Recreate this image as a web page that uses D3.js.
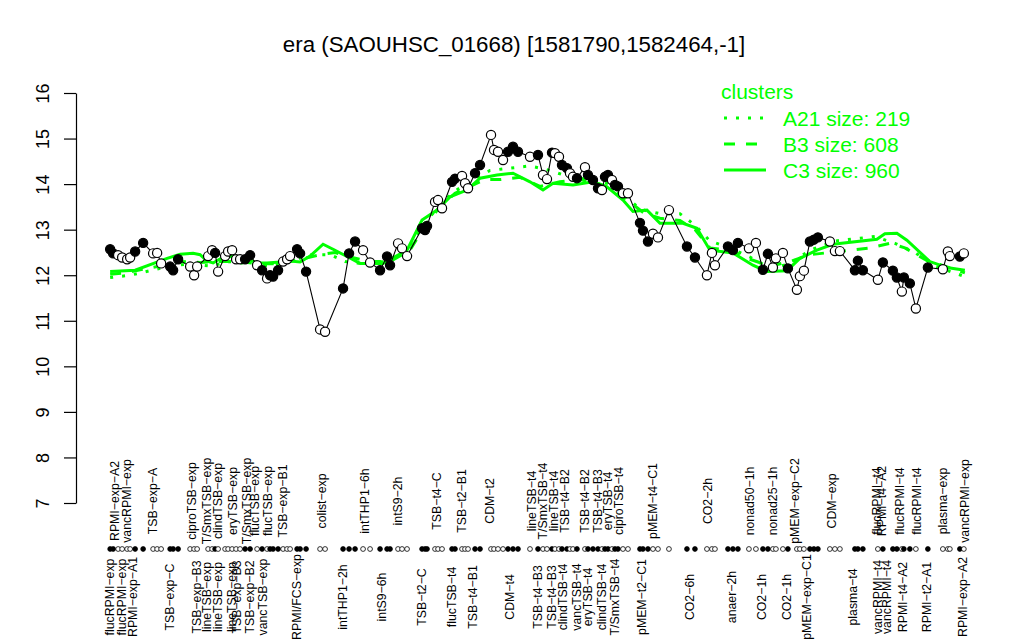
<!DOCTYPE html>
<html><head><meta charset="utf-8">
<script src="https://cdn.jsdelivr.net/npm/d3@7"></script>
<style>body{margin:0;background:#fff} text{font-family:"Liberation Sans",Arial,Helvetica,sans-serif}</style>
</head><body><svg id="c" width="1024" height="640"></svg>
<script>
const title = "era (SAOUHSC_01668) [1581790,1582464,-1]";
const yTicks = [7, 8, 9, 10, 11, 12, 13, 14, 15, 16];

const pointPos = [1.0,1.6,2.6,3.4,4.4,5.0,6.0,7.6,9.6,10.4,11.2,13.0,13.6,14.6,17.0,17.8,18.4,20.6,21.4,22.0,22.6,24.0,24.6,25.4,26.2,27.0,28.0,29.0,30.4,31.4,32.4,33.0,33.6,34.6,35.6,36.4,37.0,38.4,39.0,40.2,43.0,44.0,47.6,48.8,50.0,51.6,53.0,55.0,56.4,57.0,58.6,59.4,60.4,63.4,64.0,64.4,66.0,66.6,67.4,69.4,70.0,71.4,72.0,72.6,74.0,75.0,77.2,77.8,78.6,79.6,80.6,81.6,82.6,85.0,86.6,87.6,88.4,89.4,90.0,90.8,91.4,92.4,93.0,93.6,94.4,96.0,96.6,97.6,98.6,99.4,100.0,100.6,101.4,102.0,102.6,103.6,104.6,107.0,107.6,108.6,109.6,110.6,112.8,116.4,118.0,120.4,121.4,122.0,124.6,125.6,126.6,128.8,130.2,131.6,132.6,133.6,134.2,135.6,136.6,138.4,139.0,139.8,141.0,141.8,142.6,145.0,146.0,147.0,150.0,150.6,151.6,154.6,155.6,157.6,158.4,159.4,159.8,161.0,162.2,164.6,167.6,168.6,169.0,171.0,171.8];
const pointVal = [12.57,12.48,12.44,12.39,12.35,12.39,12.52,12.71,12.48,12.49,12.26,12.19,12.11,12.35,12.19,12.00,12.19,12.42,12.55,12.49,12.08,12.42,12.52,12.55,12.35,12.35,12.35,12.44,12.22,12.11,11.93,12.00,11.97,12.11,12.30,12.35,12.42,12.57,12.48,12.08,10.81,10.76,11.71,12.48,12.74,12.55,12.28,12.11,12.41,12.22,12.70,12.59,12.42,13.03,12.99,13.08,13.61,13.65,13.47,14.05,14.12,14.18,14.02,13.91,14.24,14.42,15.08,14.75,14.71,14.53,14.71,14.82,14.71,14.60,14.64,14.20,14.11,14.69,14.68,14.60,14.42,14.35,14.24,14.16,14.13,14.37,14.20,14.09,13.91,13.87,14.16,14.20,14.09,13.98,13.95,13.80,13.80,13.15,12.98,12.74,12.91,12.83,13.43,12.63,12.39,12.00,12.49,12.22,12.63,12.55,12.71,12.59,12.71,12.12,12.47,12.17,12.37,12.49,12.15,11.68,11.98,12.10,12.74,12.78,12.83,12.74,12.53,12.53,12.11,12.32,12.11,11.90,12.28,12.10,11.95,11.64,11.95,11.82,11.27,12.17,12.13,12.52,12.42,12.41,12.48];
const pointFilled = [1,1,0,0,0,0,1,1,0,0,0,1,1,1,0,0,0,0,0,1,0,0,0,0,0,0,1,1,0,1,0,1,1,1,0,0,0,1,1,1,0,0,1,1,1,0,0,1,1,1,0,0,0,1,1,1,0,0,0,1,1,0,0,0,1,1,0,0,0,0,1,1,1,0,1,0,0,1,0,0,1,1,0,0,1,0,1,1,1,0,1,1,0,1,1,0,0,1,1,1,0,0,0,1,1,0,0,0,1,1,1,0,0,1,1,0,0,0,1,0,0,0,1,1,1,0,0,0,1,1,1,0,1,1,1,0,1,1,0,1,0,0,0,1,0];

const topLabels = ["RPMI\u2212exp\u2212A2","vancRPMI\u2212exp","TSB\u2212exp\u2212A","ciproTSB\u2212exp","T/SmxTSB\u2212exp","clindTSB\u2212exp","eryTSB\u2212exp","T/SmxTSB\u2212exp","flucTSB\u2212exp","flucTSB\u2212exp","TSB\u2212exp\u2212B1","colist\u2212exp","intTHP1\u22126h","intS9\u22122h","TSB\u2212t4\u2212C","TSB\u2212t2\u2212B1","CDM\u2212t2","lineTSB\u2212t4","T/SmxTSB\u2212t4","lineTSB\u2212t4","TSB\u2212t4\u2212B2","TSB\u2212t4\u2212B2","TSB\u2212t4\u2212B3","eryTSB\u2212t4","ciproTSB\u2212t4","pMEM\u2212t4\u2212C1","CO2\u22122h","nonad50\u22121h","nonad25\u22121h","pMEM\u2212exp\u2212C2","CDM\u2212exp","flucRPMI\u2212t4","RPMI\u2212t4\u2212A2","flucRPMI\u2212t4","flucRPMI\u2212t4","plasma\u2212exp","vancRPMI\u2212exp"];
const topLabelPos = [2.0,4.4,9.6,17.4,20.4,22.6,25.6,28.4,30.0,32.6,35.6,43.4,52.0,58.6,66.4,71.4,77.0,85.4,87.6,89.8,92.0,96.0,98.6,100.6,102.8,109.6,120.6,129.0,133.6,138.0,145.4,154.4,155.4,159.0,162.4,167.6,172.0];
const bottomLabels = ["flucRPMI\u2212exp","flucRPMI\u2212exp","RPMI\u2212exp\u2212A1","TSB\u2212exp\u2212C","TSB\u2212exp\u2212B3","lineTSB\u2212exp","lineTSB\u2212exp","lineTSB\u2212exp","TSB\u2212exp\u2212B3","TSB\u2212exp\u2212B2","vancTSB\u2212exp","RPMI/FCS\u2212exp","intTHP1\u22122h","intS9\u22126h","TSB\u2212t2\u2212C","flucTSB\u2212t4","TSB\u2212t4\u2212B1","CDM\u2212t4","TSB\u2212t4\u2212B3","TSB\u2212t4\u2212B3","clindTSB\u2212t4","vancTSB\u2212t4","eryTSB\u2212t4","clindTSB\u2212t4","T/SmxTSB\u2212t4","pMEM\u2212t2\u2212C1","CO2\u22126h","anaer\u22122h","CO2\u22121h","CO2\u22121h","pMEM\u2212exp\u2212C1","plasma\u2212t4","vancRPMI\u2212t4","vancRPMI\u2212t4","RPMI\u2212t4\u2212A2","RPMI\u2212t2\u2212A1","RPMI\u2212exp\u2212A2"];
const bottomLabelPos = [1.0,3.4,5.6,13.0,18.4,20.4,22.6,25.4,26.4,29.0,31.6,38.4,47.6,55.4,63.4,69.4,73.6,81.0,86.6,89.4,91.6,94.4,96.6,99.4,102.0,107.4,117.0,125.4,131.4,136.4,140.4,149.6,154.6,156.4,159.6,164.4,171.6];

const c3Pos = [1,6,12.4,15,17.6,19,20.4,21.6,23,25.6,28.4,30.4,32.4,35,37,39,41,43.6,45.6,48.4,51,55.6,60.4,63.4,66.4,69,72.4,75,78.4,81.6,85,87.6,89.6,93.6,97.6,100.4,103.6,105.6,108.4,111,115.6,118.4,121,125.6,129.6,132.4,136.4,139,142.4,145.6,154.4,156,158.4,160.4,165,168.4,172];
const c3Val = [12.08,12.11,12.37,12.46,12.48,12.45,12.31,12.27,12.36,12.42,12.36,12.27,12.27,12.29,12.31,12.29,12.42,12.68,12.57,12.41,12.26,12.26,12.55,13.21,13.43,13.72,13.87,14.13,14.20,14.24,14.05,13.87,14.02,13.98,14.05,13.94,13.65,13.40,13.43,13.14,13.14,13.03,12.55,12.49,12.22,12.08,12.10,12.37,12.55,12.68,12.79,12.91,12.92,12.77,12.30,12.17,12.11];
const b3Pos = [1,4,7,11,15,19,22,27,31,35,39,43,46,49,53,57,61,64,67,70,73,76,79,83,87,91,95,99,102,105,108,111,115,118,121,125,129,133,137,141,145,149,153,157,160,164,168,172];
const b3Val = [12.02,12.05,12.12,12.2,12.3,12.28,12.3,12.3,12.25,12.25,12.35,12.45,12.5,12.4,12.3,12.3,12.55,13.1,13.5,13.8,13.95,14.1,14.1,14.15,13.95,14.05,14.1,14.0,13.85,13.6,13.35,13.25,13.2,13.0,12.6,12.55,12.35,12.2,12.3,12.45,12.5,12.55,12.6,12.7,12.6,12.35,12.2,12.05];
const a21Pos = [1,5,9,13,17,21,25,29,33,37,41,45,48,52,56,60,64,67,70,73,77,81,85,89,93,97,101,104,107,111,115,118,121,125,129,133,137,141,146,150,154,158,162,166,172];
const a21Val = [11.95,12.0,12.1,12.2,12.25,12.2,12.3,12.25,12.2,12.3,12.45,12.45,12.3,12.25,12.3,12.5,13.15,13.55,13.85,14.05,14.3,14.35,14.4,14.3,14.15,14.1,14.0,13.75,13.45,13.35,13.35,13.1,12.75,12.6,12.4,12.15,12.25,12.55,12.75,12.8,12.85,12.7,12.5,12.2,11.97];

const legendTitle = "clusters";
const legendLabels = ["A21 size: 219", "B3 size: 608", "C3 size: 960"];
const legendDash = ["3,9", "11,11", null];

const green = "#00ff00";
const svg = d3.select("#c");

const pMin = d3.min(pointPos), pMax = d3.max(pointPos), pr = pMax - pMin;
const x = d3.scaleLinear().domain([pMin - 0.04 * pr, pMax + 0.04 * pr]).range([76, 998]);
const y = d3.scaleLinear().domain([7, 16]).range([503, 93]);

// title
svg.append("text").attr("x", 514).attr("y", 52).attr("text-anchor", "middle")
  .attr("font-size", 22.3).text(title);

// y axis
const ax = svg.append("g").attr("transform", "translate(76,0)")
  .call(d3.axisLeft(y).tickValues(yTicks).tickSize(12).tickSizeOuter(0).tickFormat(d3.format("d")));
ax.select(".domain").attr("stroke", "#000").attr("stroke-width", 1.2);
ax.selectAll(".tick line").attr("stroke", "#000").attr("stroke-width", 1.2);
ax.selectAll(".tick text").attr("x", null).attr("dy", null)
  .attr("transform", "translate(-27,0) rotate(-90)")
  .attr("text-anchor", "middle").attr("font-size", 18).attr("fill", "#000")
  .style("font-family", "'Liberation Sans',Arial,sans-serif");

// cluster lines
const lineGen = (xs, vs) => d3.line().x((d, i) => x(xs[i])).y((d, i) => y(vs[i]))(vs);
svg.append("path").attr("d", lineGen(a21Pos, a21Val)).attr("fill", "none")
  .attr("stroke", green).attr("stroke-width", 3).attr("stroke-dasharray", legendDash[0]);
svg.append("path").attr("d", lineGen(b3Pos, b3Val)).attr("fill", "none")
  .attr("stroke", green).attr("stroke-width", 3).attr("stroke-dasharray", legendDash[1]);
svg.append("path").attr("d", lineGen(c3Pos, c3Val)).attr("fill", "none")
  .attr("stroke", green).attr("stroke-width", 3);

// data line + points
svg.append("path").attr("d", lineGen(pointPos, pointVal)).attr("fill", "none")
  .attr("stroke", "#000").attr("stroke-width", 1.1);
svg.append("g").selectAll("circle").data(pointVal).join("circle")
  .attr("cx", (d, i) => x(pointPos[i])).attr("cy", d => y(d)).attr("r", 4.6)
  .attr("fill", (d, i) => pointFilled[i] ? "#000" : "#fff")
  .attr("stroke", "#000").attr("stroke-width", 1.2);

// strip of symbols
svg.append("g").selectAll("circle").data(pointPos).join("circle")
  .attr("cx", d => x(d)).attr("cy", 549).attr("r", 2.4)
  .attr("fill", (d, i) => pointFilled[i] ? "#000" : "#fff")
  .attr("stroke", "#000").attr("stroke-width", 0.8);

// labels
const lab = (names, pos, cy) => svg.append("g").selectAll("text").data(names).join("text")
  .attr("transform", (d, i) => `translate(${x(pos[i])},${cy}) rotate(-90)`)
  .attr("text-anchor", "middle").attr("dy", "0.35em").attr("font-size", 12.3).text(d => d);
lab(topLabels, topLabelPos, 501);
lab(bottomLabels, bottomLabelPos, 597);

// legend
const lg = svg.append("g").attr("fill", green);
lg.append("text").attr("x", 721).attr("y", 99).attr("font-size", 21).text(legendTitle);
const ly = [118, 144, 170];
legendLabels.forEach((t, i) => {
  const l = lg.append("line").attr("x1", 724).attr("x2", 766).attr("y1", ly[i]).attr("y2", ly[i])
    .attr("stroke", green).attr("stroke-width", 3);
  if (legendDash[i]) l.attr("stroke-dasharray", legendDash[i]);
  lg.append("text").attr("x", 783).attr("y", ly[i] + 7.5).attr("font-size", 21).text(t);
});
</script></body></html>
